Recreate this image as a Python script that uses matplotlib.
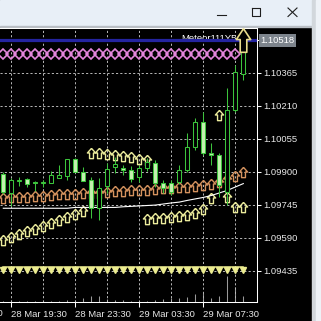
import matplotlib
matplotlib.use("Agg")
import matplotlib.pyplot as plt
import matplotlib.transforms as mtransforms
from matplotlib.patches import Rectangle
from matplotlib.lines import Line2D
import numpy as np
import pandas as pd

plt.rcParams['font.family'] = ['Liberation Sans', 'DejaVu Sans']

nan = np.nan

# M30 bars, 28 Mar 19:00 .. 29 Mar 10:00
bar_times = pd.date_range('2019-03-28 19:00', periods=31, freq='30min')
time_labels = ['28 Mar 19:30', '28 Mar 23:30', '29 Mar 03:30', '29 Mar 07:30']
grid_times = ['28 Mar 21:30', '29 Mar 01:30', '29 Mar 05:30', '29 Mar 09:30']
price_levels = [1.09435, 1.09590, 1.09745, 1.09900, 1.10055, 1.10210, 1.10365]

opens = [1.09889, 1.09800, 1.09856, 1.09867, 1.09852, 1.09849, 1.09848, 1.09870, 1.09880, 1.09958,
         1.09900, 1.09861, 1.09728, 1.09833, 1.09924, 1.09917, 1.09908, 1.09876, 1.09916, 1.09942,
         1.09847, 1.09847, 1.09853, 1.09908, 1.10018, 1.10135, 1.09989, 1.09979, 1.09806, 1.10190,
         1.10360]
closes = [1.09805, 1.09861, 1.09859, 1.09842, 1.09848, 1.09852, 1.09884, 1.09883, 1.09958, 1.09900,
          1.09858, 1.09729, 1.09822, 1.09911, 1.09936, 1.09908, 1.09864, 1.09916, 1.09947, 1.09845,
          1.09823, 1.09806, 1.09908, 1.10018, 1.10135, 1.09987, 1.09979, 1.09837, 1.10190, 1.10369,
          1.10518]
highs = [1.09899, 1.09870, 1.09877, 1.09870, 1.09856, 1.09861, 1.09905, 1.09932, 1.09962, 1.09964,
         1.09924, 1.09876, 1.09870, 1.09940, 1.09971, 1.09932, 1.09927, 1.09932, 1.09964, 1.09955,
         1.09861, 1.09861, 1.09932, 1.10081, 1.10153, 1.10182, 1.10036, 1.09988, 1.10294, 1.10402,
         1.10529]
lows = [1.09795, 1.09739, 1.09833, 1.09828, 1.09809, 1.09828, 1.09847, 1.09868, 1.09861, 1.09899,
        1.09856, 1.09682, 1.09673, 1.09801, 1.09895, 1.09884, 1.09853, 1.09853, 1.09905, 1.09829,
        1.09798, 1.09790, 1.09842, 1.09899, 1.10002, 1.09979, 1.09932, 1.09782, 1.09743, 1.10181,
        1.10331]
volumes = [150, 200, 100, 100, 100, 100, 150, 100, 200, 200, 400, 600, 600, 300, 200, 200, 100, 150,
           100, 200, 300, 400, 400, 560, 800, 900, 460, 660, 2660, 1500, 660]

# indicator buffers
brown_trail = [1.09776, 1.09779, 1.09781, 1.09783, 1.09786, 1.09788, 1.09790, 1.09793, 1.09795, 1.09797,
               1.09800, 1.09800, 1.09802, 1.09805, 1.09807, 1.09809, 1.09812, 1.09814, 1.09816, 1.09819,
               1.09821, 1.09823, 1.09826, 1.09828, 1.09833, 1.09837, 1.09844, 1.09853, 1.09866, 1.09882,
               1.09899]
lower_stop = [1.09579, 1.09593, 1.09605, 1.09619, 1.09630, 1.09645, 1.09659, 1.09673, 1.09687, 1.09701,
              1.09715, nan, nan, nan, nan, nan, nan, nan, 1.09678, 1.09680,
              1.09682, 1.09687, 1.09692, 1.09696, 1.09706, 1.09725, 1.09776, nan, 1.09781, 1.09734,
              1.09734]
upper_stop = [nan, nan, nan, nan, nan, nan, nan, nan, nan, nan,
              nan, 1.09988, 1.09986, 1.09983, 1.09979, 1.09974, 1.09967, 1.09962, 1.09955, nan,
              nan, nan, nan, nan, nan, nan, nan, 1.10167, nan, nan,
              nan]
white_ma = [1.09728, 1.09728, 1.09728, 1.09728, 1.09728, 1.09728, 1.09728, 1.09728, 1.09728, 1.09732,
            1.09732, 1.09732, 1.09732, 1.09732, 1.09732, 1.09735, 1.09737, 1.09739, 1.09741, 1.09743,
            1.09748, 1.09753, 1.09757, 1.09765, 1.09772, 1.09779, 1.09788, 1.09800, 1.09812, 1.09828,
            1.09844]
pink_level = 1.10452
yellow_wave = 1.09452
yellow_level = 1.09436
meteor_level = 1.10518
bid = 1.10518
signal_price = 1.10520

x = np.arange(len(bar_times))
stamps = bar_times.strftime('%d Mar %H:%M')
label_pos = [int(np.where(stamps == t)[0][0]) for t in time_labels]
grid_pos = [int(np.where(stamps == t)[0][0]) for t in grid_times]

up_arrow = [(0, 1), (0.8, 0.1), (0.38, 0.1), (0.38, -1), (-0.38, -1), (-0.38, 0.1), (-0.8, 0.1), (0, 1)]
big_arrow = [(0, 1), (0.61, 0.08), (0.28, 0.08), (0.28, -1), (-0.28, -1), (-0.28, 0.08), (-0.61, 0.08), (0, 1)]

FS = 6.8
W = 321
fig = plt.figure(figsize=(3.21, 3.21), dpi=100, facecolor='black')
ax = fig.add_axes([0, 18.7 / W, 257 / W, 274.3 / W])
vax = ax.twinx()
vax.set_zorder(0)
ax.set_zorder(1)
ax.patch.set_visible(False)

# volumes
vax.vlines(x, 0, volumes, color='#9a9a9a', linewidth=0.75)
vax.set_ylim(0, 27430)
vax.axis('off')

green = '#3cc43c'
# chains
ax.plot(x, [yellow_wave] * len(x), color='#ecec90', lw=1.1, zorder=2)
ax.plot(x, [yellow_level] * len(x), ls='none', marker='v', ms=3.9, color='#ecec90', zorder=2)
ax.plot(x[:-1], [pink_level] * (len(x) - 1), ls='none', marker='D', ms=4.9, mfc='none',
        mec='#e486dc', mew=1.2, zorder=2)
ax.axhline(meteor_level, color='#2424a0', lw=2.3, zorder=3)
ax.text(29.2, meteor_level - 0.00004, 'Meteor111Y5', ha='right', va='baseline',
        color='white', fontsize=FS, zorder=2.5)

# arrows
ax.plot(x, brown_trail, ls='none', marker=up_arrow, ms=7.4, mfc='none', mec='#d4925e', mew=1.0, zorder=3)
ax.plot(x, lower_stop, ls='none', marker=up_arrow, ms=7.4, mfc='none', mec='#ecec9c', mew=1.0, zorder=3)
ax.plot(x, upper_stop, ls='none', marker=up_arrow, ms=7.4, mfc='none', mec='#ecec9c', mew=1.0, zorder=3)
ax.plot(x, white_ma, color='white', lw=0.8, zorder=3)

# candles
o = np.array(opens)
c = np.array(closes)
ax.vlines(x, lows, highs, color=green, lw=0.75, zorder=4)
face = np.where(c >= o, 'black', '#c4f0b0')
ax.bar(x, c - o, bottom=o, width=0.5, color=face, edgecolor=green, linewidth=0.75, zorder=5)

ax.plot([x[-1]], [signal_price], ls='none', marker=big_arrow, ms=17, mfc='black', mec='#e8dc8c',
        mew=1.2, zorder=6)

# axes
ax.set_xlim(-0.4125, 31.71)
ax.set_ylim(1.092856, 1.105760)
ax.set_xticks(label_pos, time_labels)
ax.set_xticks(grid_pos, minor=True)
for lab in ax.get_xticklabels():
    lab.set_horizontalalignment('left')
ax.yaxis.tick_right()
ax.set_yticks(price_levels, [f'{p:.5f}' for p in price_levels])
ax.set_yticks([bid], minor=True)
ax.xaxis.grid(True, which='both', color='#b8b8b8', linestyle=(0, (2.2, 2.2)), linewidth=0.7)
ax.yaxis.grid(True, which='major', color='#b8b8b8', linestyle=(0, (2.2, 2.2)), linewidth=0.7)
ax.set_axisbelow(True)
ax.tick_params(axis='x', which='major', length=3.5, width=0.75, color='white',
               labelcolor='#e8e8e8', labelsize=FS, pad=2)
ax.tick_params(axis='x', which='minor', length=0)
ax.tick_params(axis='y', which='both', length=3, width=0.75, color='white', labelcolor='#e8e8e8',
               labelsize=FS, pad=1.5, right=True, left=False)
for s in ['top', 'right', 'bottom']:
    ax.spines[s].set_color('white')
    ax.spines[s].set_linewidth(0.75)
ax.spines['left'].set_visible(False)

tr = mtransforms.blended_transform_factory(ax.transAxes, ax.transData)
ax.text(1 + 3.5 / 257, bid, f'{bid:.5f}', transform=tr, ha='left', va='center', fontsize=FS,
        color='white', clip_on=False,
        bbox=dict(boxstyle='square,pad=0.18', fc='#7d848c', ec='none'))
trx = mtransforms.blended_transform_factory(ax.transData, ax.transAxes)
ax.text(label_pos[0] - 8, -6.5 / 274.3, '28 Mar 15:30', transform=trx, ha='left', va='top',
        fontsize=FS, color='#e8e8e8', clip_on=False)

# window chrome
fig.patches.append(Rectangle((0, 1 - 26 / W), 1, 26 / W, transform=fig.transFigure,
                             color='#e8eff7', zorder=0))
fig.patches.append(Rectangle((0, 1 - 26.5 / W), 1, 1 / W, transform=fig.transFigure,
                             color='#b9bec4', zorder=0))
fig.patches.append(Rectangle((312 / W, 0), 4 / W, 1, transform=fig.transFigure,
                             color='#d2d7dc', zorder=0))
fig.patches.append(Rectangle((316 / W, 0), 5 / W, 1, transform=fig.transFigure,
                             color='#eef2f7', zorder=0))
def fl(xs, ys):
    fig.lines.append(Line2D([v / W for v in xs], [1 - v / W for v in ys],
                            transform=fig.transFigure, color='#1e1e1e', lw=0.8))
fl([216.5, 226], [15, 15])
fl([252, 260, 260, 252, 252], [8, 8, 16, 16, 8])
fl([288, 297], [8, 16.5])
fl([288, 297], [16.5, 8])

fig.savefig('out.png', dpi=100, facecolor='black')
